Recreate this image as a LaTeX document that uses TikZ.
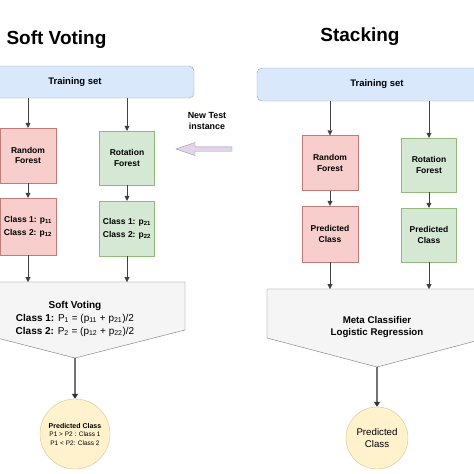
\documentclass[tikz,border=0pt]{standalone}
\usepackage{fontspec}
\setmainfont{Liberation Sans}
\usetikzlibrary{positioning}
\usetikzlibrary{arrows.meta}
\definecolor{blfill}{HTML}{DAE8FC}
\definecolor{bldraw}{HTML}{8EA6C8}
\definecolor{rdfill}{HTML}{F8CECC}
\definecolor{rddraw}{HTML}{C07A77}
\definecolor{grfill}{HTML}{D5E8D4}
\definecolor{grdraw}{HTML}{93BA7C}
\definecolor{gyfill}{HTML}{F5F5F5}
\definecolor{gydraw}{HTML}{777777}
\definecolor{ylfill}{HTML}{FFF2CC}
\definecolor{yldraw}{HTML}{D8C48A}
\definecolor{pufill}{HTML}{E1D5E7}
\definecolor{pudraw}{HTML}{A08AB2}
\colorlet{lncol}{black!75}
\tikzset{>=latex}
\tikzset{
  trainbox/.style={draw=bldraw, fill=blfill, rounded corners=5pt, font=\fontsize{9.5}{11}\selectfont\bfseries},
  redbox/.style={draw=rddraw, fill=rdfill, minimum width=56pt, minimum height=55pt, align=center, font=\fontsize{8.5}{10.5}\selectfont\bfseries},
  greenbox/.style={draw=grdraw, fill=grfill, minimum width=55pt, minimum height=54pt, align=center, font=\fontsize{8.5}{10.5}\selectfont\bfseries},
  probtext/.style={font=\fontsize{8.5}{13}\selectfont\bfseries},
  flow/.style={draw=lncol, -{Triangle[length=5pt,width=5pt]}},
  bigflow/.style={draw=black!55, line width=1.8pt, -{Triangle[length=5pt,width=6pt,color=black!80]}},
  title/.style={font=\fontsize{19}{22}\selectfont\bfseries}
}

\begin{document}
\begin{tikzpicture}[x=1pt,y=-1pt]
\clip (0,0) rectangle (474,474);
\fill[white] (0,0) rectangle (474,474);

% Titles
\node[title, anchor=west] (tsv) at (3,40) {Soft Voting};
\node[title] (tst) at (360,37) {Stacking};

% Soft voting side
\node[trainbox, minimum width=238pt, minimum height=32pt] (ts1) at (75,82) {Training set};
\node[redbox] (rf1) at (28,155.5) {Random\\Forest};
\node[greenbox] (rot1) at (127,158) {Rotation\\Forest};
\node[redbox, probtext, minimum height=57pt] (cls1) at (28,226.5) {Class 1: p\textsubscript{11}\\Class 2: p\textsubscript{12}};
\node[greenbox, probtext, minimum height=55pt] (cls2) at (127,228.5) {Class 1: p\textsubscript{21}\\Class 2: p\textsubscript{22}};

\draw[flow] (rf1 |- ts1.south) -- (rf1);
\draw[flow] (rot1 |- ts1.south) -- (rot1);
\draw[flow] (rf1) -- (cls1);
\draw[flow] (rot1) -- (cls2);

% Soft voting combiner
\coordinate (svtop) at (75,282);
\coordinate (svtip) at (75,358);
\draw[draw=gydraw, fill=gyfill] (-34,282) -- (185,282) -- (185,330) -- (svtip) -- (-34,330) -- cycle;
\node[align=center, font=\fontsize{10}{13}\selectfont] (sv) at (75,318.5)
  {\textbf{Soft Voting}\\\textbf{Class 1:} P\textsubscript{1} = (p\textsubscript{11} + p\textsubscript{21})/2\\\textbf{Class 2:} P\textsubscript{2} = (p\textsubscript{12} + p\textsubscript{22})/2};
\draw[flow] (cls1) -- (cls1 |- svtop);
\draw[flow] (cls2) -- (cls2 |- svtop);

\node[circle, draw=yldraw, fill=ylfill, minimum size=70pt, inner sep=0pt, align=center, font=\fontsize{6.5}{8.5}\selectfont] (pc1) at (75,434)
  {{\fontsize{7}{8.5}\selectfont\bfseries Predicted Class}\\P1 > P2 : Class 1\\P1 < P2: Class 2};
\draw[bigflow] (svtip) -- (pc1);

% New test instance
\node[align=center, font=\fontsize{8.9}{10.5}\selectfont\bfseries] (nti) at (207,121) {New Test\\instance};
\draw[draw=pudraw, fill=pufill] (176,149) -- (195,142.5) -- (195,146.8) -- (232,146.8) -- (232,151.2)
  -- (195,151.2) -- (195,155.5) -- cycle;

% Stacking side
\node[trainbox, minimum width=240pt, minimum height=33pt] (ts2) at (377,84.5) {Training set};
\node[redbox] (rf2) at (330,163) {Random\\Forest};
\node[greenbox] (rot2) at (429,165) {Rotation\\Forest};
\node[redbox, minimum height=56pt] (pr1) at (330,234) {Predicted\\Class};
\node[greenbox] (pr2) at (429,235) {Predicted\\Class};

\draw[flow] (rf2 |- ts2.south) -- (rf2);
\draw[flow] (rot2 |- ts2.south) -- (rot2);
\draw[flow] (rf2) -- (pr1);
\draw[flow] (rot2) -- (pr2);

% Meta classifier
\coordinate (mctop) at (377,289);
\coordinate (mctip) at (377,367);
\draw[draw=gydraw, fill=gyfill] (267,289) -- (487,289) -- (487,338) -- (mctip) -- (267,338) -- cycle;
\node[align=center, font=\fontsize{9.7}{12}\selectfont\bfseries] (mc) at (377,327.5) {Meta Classifier\\Logistic Regression};
\draw[flow] (pr1) -- (pr1 |- mctop);
\draw[flow] (pr2) -- (pr2 |- mctop);

\node[circle, draw=yldraw, fill=ylfill, minimum size=62pt, inner sep=0pt, align=center, font=\fontsize{9.7}{12}\selectfont] (pc2) at (377,438) {Predicted\\Class};
\draw[bigflow] (mctip) -- (pc2);
\end{tikzpicture}
\end{document}
